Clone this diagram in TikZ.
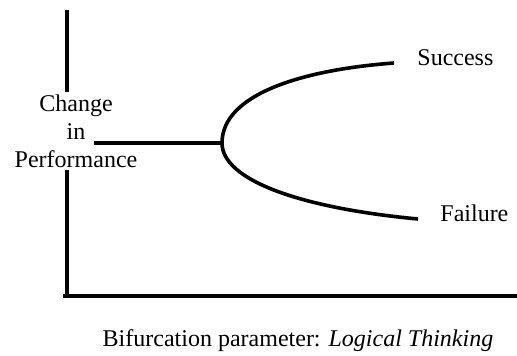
\documentclass[tikz,border=0pt]{standalone}
\usepackage{fontspec}
\setmainfont{Liberation Serif}
\usepackage{tikz}
\usetikzlibrary{positioning}
\tikzstyle{axis} = [line width=2pt]
\tikzstyle{branch} = [line width=1.8pt]
\tikzstyle{lbl} = [draw=none, font=\fontsize{12}{14}\selectfont, align=center]

\begin{document}
\begin{tikzpicture}[x=0.5pt,y=-0.5pt]
  \useasboundingbox (0,0) rectangle (517,356);

  \coordinate (top) at (67,10);
  \coordinate (origin) at (67,296);
  \coordinate (xend) at (517,296);
  \node[lbl, inner sep=1pt] (perf) at (76,131) {Change\\in\\Performance};
  \coordinate (stem) at (94,143);
  \coordinate (fork) at (222,143);
  \node[lbl, anchor=west, inner sep=0pt] (succ) at (417,58) {Success};
  \node[lbl, anchor=west, inner sep=0pt] (fail) at (440,213) {Failure};
  \coordinate (sEnd) at (394,63);
  \coordinate (fEnd) at (418,219);
  \node[lbl] (param) at (298,341) {Bifurcation parameter: \textit{Logical Thinking}};

  % axes
  \draw[axis] (top) -- (perf.north -| top);
  \draw[axis] (perf.south -| top) -- (origin);
  \draw[axis] ([xshift=-2pt]origin) -- (xend);

  % the fork
  \draw[axis] (stem) -- (fork);
  \draw[branch] (fork) .. controls (222,95) and (300,70) .. (sEnd);
  \draw[branch] (fork) .. controls (222,180) and (300,208) .. (fEnd);

\end{tikzpicture}
\end{document}
